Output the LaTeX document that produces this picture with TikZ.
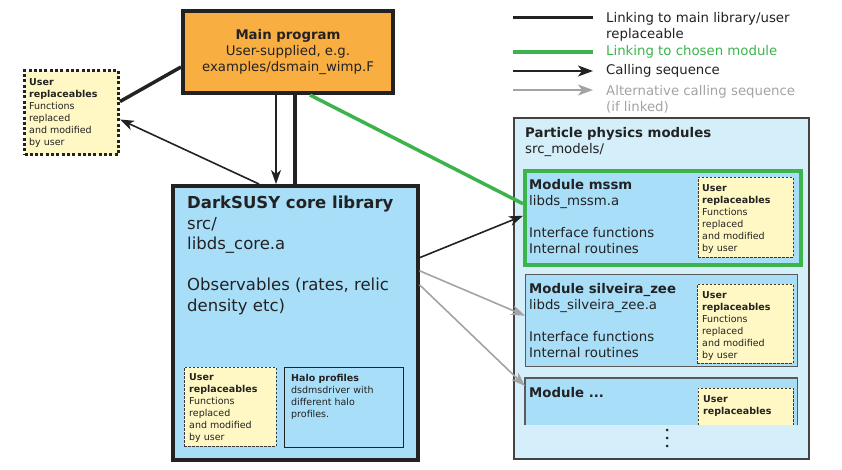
\documentclass[tikz,border=0pt]{standalone}
\usepackage{fontspec}
\setmainfont{DejaVu Sans}
\usepackage{xcolor}
\usetikzlibrary{arrows.meta,positioning,calc}
\definecolor{mainorange}{HTML}{F9AE42}
\definecolor{coreblue}{HTML}{A9DEF9}
\definecolor{modblue}{HTML}{D4EEFA}
\definecolor{repyellow}{HTML}{FFF8C4}
\definecolor{linkgreen}{HTML}{3CB44B}
\definecolor{altgray}{HTML}{A3A3A3}
\definecolor{inkdark}{HTML}{222222}
\newcommand{\fbig}{\fontsize{16.5pt}{20.5pt}\selectfont}
\newcommand{\fmid}{\fontsize{13.3pt}{16.2pt}\selectfont}
\newcommand{\fsml}{\fontsize{9.5pt}{12pt}\selectfont}
\newcommand{\userrep}{\textbf{User}\\\textbf{replaceables}\\Functions\\replaced\\and modified\\by user}

\begin{document}
\begin{tikzpicture}[x=1pt,y=-1pt,>={Stealth[length=14pt,width=10pt,inset=4pt]},
  box/.style={draw=inkdark,inner sep=0pt,anchor=north west},
  txt/.style={inner sep=0pt,anchor=north west,align=left,text=inkdark},
  repbox/.style={box,fill=repyellow,draw=inkdark!90,line width=0.8pt,dash pattern=on 2.5pt off 1.5pt},
  linkline/.style={inkdark,line width=3pt},
  greenlink/.style={linkgreen,line width=3.5pt},
  call/.style={->,inkdark,line width=1.6pt},
  altcall/.style={->,altgray,line width=1.6pt},
  legtxt/.style={inner sep=0pt,anchor=west,font=\fmid,text=inkdark}]
  \useasboundingbox (0,0) rectangle (842,469);
  % main program and core library
  \node[box,fill=mainorange,line width=4pt,minimum width=210pt,minimum height=82pt,anchor=center,
    align=center,font=\fmid,text=inkdark] (main) at (288,52)
    {\textbf{Main program}\\User-supplied, e.g.\\examples/dsmain\_wimp.F};
  \node[box,fill=repyellow,line width=3pt,dash pattern=on 3pt off 2.3pt,minimum width=94pt,minimum height=84pt] (userL) at (23,69) {};
  \node[txt,font=\fsml] (userLtxt) at (29,78) {\userrep};
  \node[box,fill=coreblue,line width=3.5pt,minimum width=245pt,minimum height=274pt] (core) at (171,184) {};
  \node[txt,font=\fbig] (coretxt) at (187,196)
    {\textbf{DarkSUSY core library}\\src/\\libds\_core.a\\[20.5pt]Observables (rates, relic\\density etc)};
  \node[repbox,minimum width=92pt,minimum height=79pt] (userC) at (184,367) {};
  \node[txt,font=\fsml] (userCtxt) at (189,373.3) {\userrep};
  \node[box,line width=0.8pt,minimum width=119pt,minimum height=80pt] (halo) at (284,367) {};
  \node[txt,font=\fsml] (halotxt) at (291,374)
    {\textbf{Halo profiles}\\dsdmsdriver with\\different halo\\profiles.};
  % legend
  \coordinate (legA1) at (513,17); \coordinate (legA2) at (593,17);
  \coordinate (legB1) at (513,52); \coordinate (legB2) at (593,52);
  \coordinate (legC1) at (513,71); \coordinate (legC2) at (593,71);
  \coordinate (legD1) at (513,90); \coordinate (legD2) at (593,90);
  \draw[linkline] (legA1) -- (legA2);
  \draw[greenlink,line width=4pt] (legB1) -- (legB2);
  \draw[call,>={Stealth[length=15pt,width=11pt,inset=4pt]}] (legC1) -- (legC2);
  \draw[altcall,>={Stealth[length=15pt,width=11pt,inset=4pt]}] (legD1) -- (legD2);
  \node[legtxt,anchor=north west,align=left] (legAtxt) at (606,11.7) {Linking to main library/user\\replaceable};
  \node[legtxt,text=linkgreen] (legBtxt) at (606,52) {Linking to chosen module};
  \node[legtxt] (legCtxt) at (606,71) {Calling sequence};
  \node[legtxt,anchor=north west,align=left,text=altgray] (legDtxt) at (606,84.7) {Alternative calling sequence\\(if linked)};
  % particle physics modules
  \node[box,fill=modblue,draw=inkdark!85,line width=1.8pt,minimum width=295pt,minimum height=341pt] (pmods) at (513,117) {};
  \node[txt,font=\fmid] (pmodstxt) at (525,126.7) {\textbf{Particle physics modules}\\src\_models/};
  \node[box,fill=coreblue,draw=linkgreen,line width=3.5pt,minimum width=276pt,minimum height=94pt] (mssm) at (523,169) {};
  \node[txt,font=\fmid] (mssmtxt) at (529,178.7)
    {\textbf{Module mssm}\\libds\_mssm.a\\[16.2pt]Interface functions\\Internal routines};
  \node[repbox,minimum width=95pt,minimum height=80pt] (userM) at (698,177) {};
  \node[txt,font=\fsml] (userMtxt) at (702,184.2) {\userrep};
  \node[box,fill=coreblue,draw=inkdark!75,line width=1.3pt,minimum width=272pt,minimum height=92pt] (silv) at (525,274) {};
  \node[txt,font=\fmid] (silvtxt) at (529,282.7)
    {\textbf{Module silveira\_zee}\\libds\_silveira\_zee.a\\[16.2pt]Interface functions\\Internal routines};
  \node[repbox,minimum width=96pt,minimum height=79pt] (userS) at (697,284) {};
  \node[txt,font=\fsml] (userStxt) at (702,291.2) {\userrep};
  \node[box,fill=coreblue,draw=none,minimum width=272pt,minimum height=47pt] (more) at (525,378) {};
  \draw[inkdark!75,line width=1.3pt] (more.south west) -- (more.north west) -- (more.north east) -- (more.south east);
  \node[txt,font=\fmid] (moretxt) at (529,386.7) {\textbf{Module ...}};
  \node[box,fill=repyellow,draw=none,minimum width=95pt,minimum height=37pt] (userX) at (698,388) {};
  \draw[inkdark!90,line width=0.8pt,dash pattern=on 2.5pt off 1.5pt] (userX.south west) -- (userX.north west) -- (userX.north east) -- (userX.south east);
  \node[txt,font=\fsml] (userXtxt) at (703,395.2) {\textbf{User}\\\textbf{replaceables}};
  \foreach \dy in {430,438,446} \fill[inkdark] (667,\dy) circle (1.5pt);
  % connectors
  \draw[linkline,line width=3.5pt] ([yshift=-15pt]main.west) -- ([yshift=11pt]userL.east);
  \draw[call] ([xshift=88pt]core.north west) -- ([yshift=-7pt]userL.east);
  \draw[call] ([xshift=-12pt]main.south) -- ([xshift=-12pt]main.south |- core.north);
  \draw[linkline,line width=4pt] ([xshift=7pt]main.south) -- ([xshift=7pt]main.south |- core.north);
  \draw[greenlink] ([xshift=22pt]main.south) -- ([yshift=14pt]mssm.west);
  \draw[call] ([yshift=65pt]core.east) -- ([yshift=2pt]mssm.west);
  \draw[altcall] ([yshift=52pt]core.east) -- ([yshift=5pt]silv.west);
  \draw[altcall] ([yshift=38pt]core.east) -- ([yshift=-8pt]more.north west);
\end{tikzpicture}
\end{document}
